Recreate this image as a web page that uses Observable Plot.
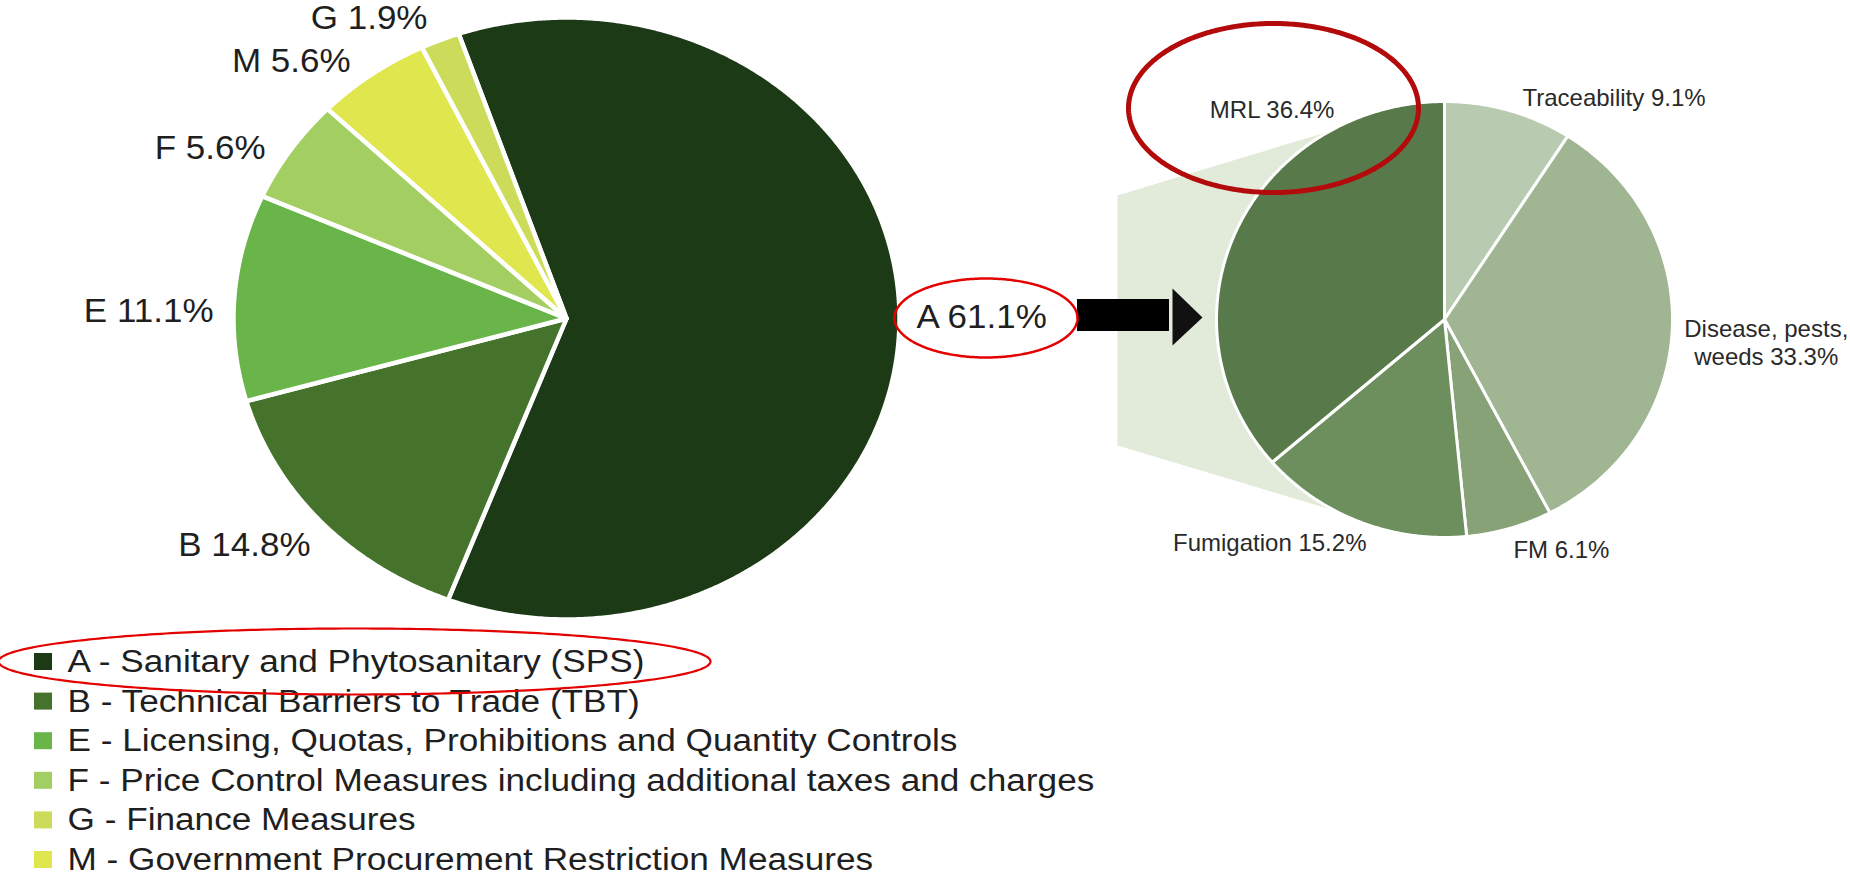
<!DOCTYPE html>
<html>
<head>
<meta charset="utf-8">
<script src="https://cdn.jsdelivr.net/npm/d3@7"></script>
<script src="https://cdn.jsdelivr.net/npm/@observablehq/plot@0.6"></script>
<style>
  html, body { margin: 0; padding: 0; background: #ffffff; }
  #chart svg { display: block; }
</style>
</head>
<body>
<div id="chart"></div>
<script>
// ---------------- DATA ----------------
// Non-tariff measure chapters (left pie, clockwise order)
const ntmCodes  = ["A", "B", "E", "F", "M", "G"];
const ntmShares = [61.1, 14.8, 11.1, 5.6, 5.6, 1.9];

// Legend (its own order)
const legendCodes  = ["A", "B", "E", "F", "G", "M"];
const legendLabels = [
  "A - Sanitary and Phytosanitary (SPS)",
  "B - Technical Barriers to Trade (TBT)",
  "E - Licensing, Quotas, Prohibitions and Quantity Controls",
  "F - Price Control Measures including additional taxes and charges",
  "G - Finance Measures",
  "M - Government Procurement Restriction Measures"
];

// Breakdown of A (SPS) (right pie, clockwise from 12 o'clock)
const spsTypes  = ["Traceability", "Disease, pests, weeds", "FM", "Fumigation", "MRL"];
const spsShares = [9.1, 33.3, 6.1, 15.2, 36.4];

// ---------------- STYLE / LAYOUT ----------------
const ntmColors = ["#1d3a16", "#46732c", "#6ab54a", "#a3cf62", "#dfe64e", "#ccdc5a"];
const spsColors = ["#b8cbb0", "#a0b592", "#86a276", "#6d8f5e", "#587a4b"];

const W = 1850, H = 877;
const leftPie  = {cx: 566,  cy: 318, rx: 333, ry: 301, start: -18.9};
const rightPie = {cx: 1444, cy: 319, rx: 228, ry: 218, start: 0};

// label offsets from the slice's mid-angle point on the rim: [dx, dy, anchor]
const ntmLabelNudge = {A: [17, -6.6, "start"], B: [-10.7, 23.5, "end"], E: [-20.8, 13.7, "end"],
                       F: [-25.1, -1.4, "end"], M: [-21.2, -12.9, "end"], G: [-12.6, -22, "end"]};
const spsLabelNudge = {"Traceability": [13.7, -13.8, "start"], "Disease, pests, weeds": [94, 12.6, "middle"],
                       "FM": [4, 21, "start"], "Fumigation": [6.5, 20.5, "end"], "MRL": [35, -120, "middle"]};

const funnel = {x: 1117, yTop: 195, yBottom: 445, aTop: -30.4, aBottom: 208.7};
const arrow  = {x1: 1077, x2: 1169, y1: 299, y2: 331, headX: 1172, tipX: 1202, headY1: 288, headY2: 345, tipY: 317};
const highlights = [
  {id: "h1", cx: 985.5, cy: 317.5, rx: 91.5, ry: 39.5, stroke: "#e50000", width: 2.5},
  {id: "h2", cx: 354,   cy: 661,   rx: 356,  ry: 33,   stroke: "#e50000", width: 2.2},
  {id: "h3", cx: 1273,  cy: 107.5, rx: 145,  ry: 84.5, stroke: "#b30b0b", width: 5}
];
const legendLayout = {squareX1: 34, squareX2: 52, half: 8.5, textX: 67, y0: 661.5, gap: 39.6};

// ---------------- GEOMETRY ----------------
const rad = a => a * Math.PI / 180;
const rim = (pie, a, k = 1) => ({x: pie.cx + k * pie.rx * Math.sin(rad(a)), y: pie.cy - k * pie.ry * Math.cos(rad(a))});

function sliceGeometry(keys, shares, pie) {
  const total = d3.sum(shares);
  let a = pie.start;
  const pts = [], mids = [];
  keys.forEach((k, i) => {
    const a0 = a, a1 = a + shares[i] / total * 360;
    a = a1;
    mids.push({key: k, share: shares[i], mid: (a0 + a1) / 2});
    pts.push({key: k, x: pie.cx, y: pie.cy});
    const n = Math.max(2, Math.ceil((a1 - a0) / 0.4));
    for (let j = 0; j <= n; j++) {
      const p = rim(pie, a0 + (a1 - a0) * j / n);
      pts.push({key: k, x: p.x, y: p.y});
    }
    pts.push({key: k, x: pie.cx, y: pie.cy});
  });
  return {pts, mids};
}

const left  = sliceGeometry(ntmCodes, ntmShares, leftPie);
const right = sliceGeometry(spsTypes, spsShares, rightPie);

const ntmLabels = left.mids.map(d => {
  const p = rim(leftPie, d.mid), n = ntmLabelNudge[d.key];
  return {text: `${d.key} ${d.share}%`, x: p.x + n[0], y: p.y + n[1], anchor: n[2]};
});
const spsLabels = right.mids.map(d => {
  const p = rim(rightPie, d.mid), n = spsLabelNudge[d.key];
  return {text: `${d.key.replace("pests, ", "pests,\n")} ${d.share}%`, x: p.x + n[0], y: p.y + n[1], anchor: n[2]};
});

const tTop = rim(rightPie, funnel.aTop), tBot = rim(rightPie, funnel.aBottom);
const funnelPts = [
  {x: funnel.x, y: funnel.yTop}, tTop, {x: rightPie.cx, y: rightPie.cy}, tBot, {x: funnel.x, y: funnel.yBottom}
];
const arrowHead = [
  {x: arrow.headX, y: arrow.headY1}, {x: arrow.tipX, y: arrow.tipY}, {x: arrow.headX, y: arrow.headY2}
];

const ellipsePts = [];
highlights.forEach(h => {
  for (let j = 0; j <= 360; j++) {
    ellipsePts.push({id: h.id, x: h.cx + h.rx * Math.cos(rad(j)), y: h.cy + h.ry * Math.sin(rad(j))});
  }
});

const legendRows = legendCodes.map((c, i) => ({
  code: c, label: legendLabels[i], y: legendLayout.y0 + i * legendLayout.gap
}));

const font = "'Liberation Sans', Arial, Helvetica, sans-serif";

function labelMarks(labels, opts) {
  return ["start", "middle", "end"].map(a => Plot.text(labels.filter(d => d.anchor === a), {
    x: "x", y: "y", text: "text", textAnchor: a, ...opts
  }));
}

const chart = Plot.plot({
  width: W,
  height: H,
  margin: 0,
  x: {domain: [0, W], range: [0, W], axis: null},
  y: {domain: [0, H], range: [0, H], axis: null},
  color: {domain: [...ntmCodes, ...spsTypes], range: [...ntmColors, ...spsColors]},
  style: {background: "#ffffff", fontFamily: font, overflow: "visible"},
  marks: [
    // funnel behind the SPS pie
    Plot.line(funnelPts, {x: "x", y: "y", fill: "#e2ead9", stroke: "none", curve: "linear-closed"}),
    // left pie
    Plot.line(left.pts, {x: "x", y: "y", z: "key", fill: "key", stroke: "#ffffff", strokeWidth: 4.5, strokeLinejoin: "round", curve: "linear"}),
    // right pie
    Plot.line(right.pts, {x: "x", y: "y", z: "key", fill: "key", stroke: "#ffffff", strokeWidth: 3, strokeLinejoin: "round", curve: "linear"}),
    // arrow
    Plot.rect([arrow], {x1: "x1", x2: "x2", y1: "y1", y2: "y2", fill: "#000000"}),
    Plot.line(arrowHead, {x: "x", y: "y", fill: "#111111", stroke: "none", curve: "linear-closed"}),
    // labels
    ...labelMarks(ntmLabels, {fontSize: 33, fill: "#1f1f1f", fontFamily: font, ariaDescription: "stretch:1.06"}),
    ...labelMarks(spsLabels, {fontSize: 24, fill: "#2a2a2a", fontFamily: font, lineHeight: 1.17}),
    // legend
    Plot.rect(legendRows, {
      x1: () => legendLayout.squareX1, x2: () => legendLayout.squareX2,
      y1: d => d.y - legendLayout.half, y2: d => d.y + legendLayout.half, fill: "code"
    }),
    Plot.text(legendRows, {
      x: () => legendLayout.textX, y: "y", text: "label", textAnchor: "start",
      fontSize: 31, fill: "#1f1f1f", fontFamily: font, ariaDescription: "stretch:1.135"
    }),
    // red highlight ellipses
    ...highlights.map(h => Plot.line(ellipsePts.filter(d => d.id === h.id), {
      x: "x", y: "y", stroke: h.stroke, strokeWidth: h.width, fill: "none", curve: "linear"
    }))
  ]
});

document.getElementById("chart").append(chart);

// horizontally stretch the glyphs of marks that ask for it (the original artwork is widened)
chart.querySelectorAll("g[aria-description^='stretch']").forEach(g => {
  const f = +g.getAttribute("aria-description").split(":")[1];
  g.querySelectorAll("text").forEach(t => {
    const w = t.getComputedTextLength();
    if (w > 0) {
      t.setAttribute("textLength", (w * f).toFixed(1));
      t.setAttribute("lengthAdjust", "spacingAndGlyphs");
    }
  });
});
</script>
</body>
</html>
